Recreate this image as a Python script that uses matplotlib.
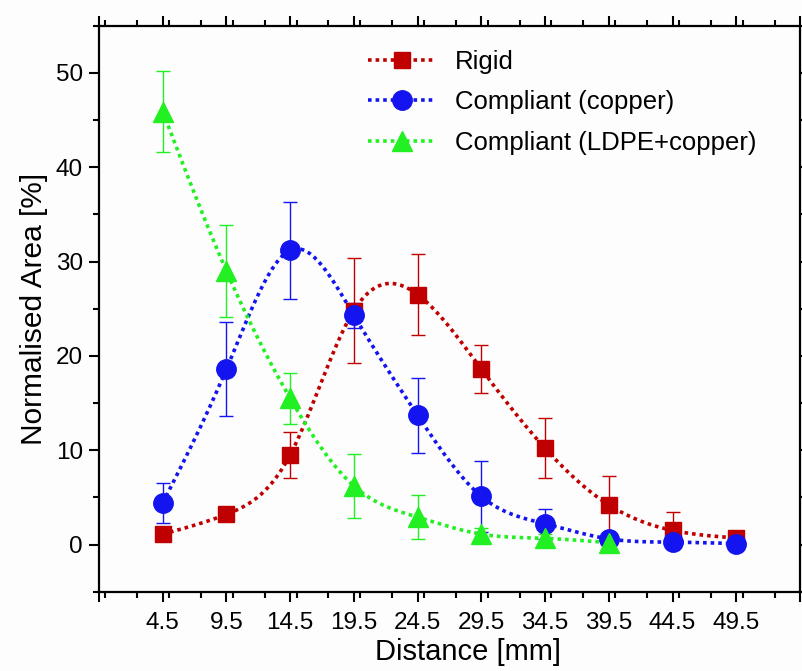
import numpy as np
import matplotlib
matplotlib.use('Agg')
import matplotlib.pyplot as plt
from matplotlib.lines import Line2D
from matplotlib.ticker import MultipleLocator

plt.rcParams['font.family'] = ['Liberation Sans', 'DejaVu Sans']

distance = [4.5, 9.5, 14.5, 19.5, 24.5, 29.5, 34.5, 39.5, 44.5, 49.5]

rigid = [1.1, 3.2, 9.5, 24.8, 26.5, 18.6, 10.2, 4.2, 1.5, 0.7]
rigid_err = [0.3, 0.4, 2.45, 5.6, 4.3, 2.5, 3.2, 3.1, 2.0, 0.3]

copper = [4.4, 18.6, 31.2, 24.3, 13.7, 5.1, 2.2, 0.6, 0.25, 0.1]
copper_err = [2.1, 5.0, 5.15, 1.3, 3.95, 3.8, 1.6, 0.5, 0.2, 0.1]

ldpe_x = [4.5, 9.5, 14.5, 19.5, 24.5, 29.5, 34.5, 39.5]
ldpe = [45.9, 29.0, 15.5, 6.2, 2.9, 1.1, 0.65, 0.2]
ldpe_err = [4.3, 4.85, 2.7, 3.35, 2.3, 0.6, 0.5, 0.2]

labels = ['Rigid', 'Compliant (copper)', 'Compliant (LDPE+copper)']


def natural_spline(x, y, num=300):
    # natural cubic spline, just for drawing the connecting line
    x = np.asarray(x, float)
    y = np.asarray(y, float)
    n = len(x)
    h = np.diff(x)
    A = np.zeros((n, n))
    b = np.zeros(n)
    A[0, 0] = A[-1, -1] = 1
    for i in range(1, n - 1):
        A[i, i - 1] = h[i - 1]
        A[i, i] = 2 * (h[i - 1] + h[i])
        A[i, i + 1] = h[i]
        b[i] = 6 * ((y[i + 1] - y[i]) / h[i] - (y[i] - y[i - 1]) / h[i - 1])
    M = np.linalg.solve(A, b)
    xs = np.linspace(x[0], x[-1], num)
    idx = np.clip(np.searchsorted(x, xs) - 1, 0, n - 2)
    x0, x1 = x[idx], x[idx + 1]
    hh = x1 - x0
    t0, t1 = x1 - xs, xs - x0
    ys = (M[idx] * t0 ** 3 + M[idx + 1] * t1 ** 3) / (6 * hh) \
        + (y[idx] / hh - M[idx] * hh / 6) * t0 \
        + (y[idx + 1] / hh - M[idx + 1] * hh / 6) * t1
    return xs, ys


fig = plt.figure(figsize=(8.02, 6.71), dpi=100, facecolor='#fdfdfd')
ax = fig.add_axes([0.1234, 0.1182, 0.8741, 0.8435])
ax.set_facecolor('#fdfdfd')

series = [
    (distance, rigid, rigid_err, '#C00000', 's', 12),
    (distance, copper, copper_err, '#1414F0', 'o', 14),
    (ldpe_x, ldpe, ldpe_err, '#22F022', '^', 15),
]

handles = []
for k, (x, y, e, c, m, ms) in enumerate(series):
    xs, ys = natural_spline(x, y)
    ax.plot(xs, ys, color=c, linestyle=(0, (1, 1.1)), lw=2.6, zorder=2 + k)
    ax.errorbar(x, y, yerr=e, fmt='none', ecolor=c, elinewidth=1,
                capsize=5, capthick=1, zorder=2 + k)
    ax.plot(x, y, linestyle='none', marker=m, ms=ms, color=c, mec=c,
            zorder=5 + k)
    handles.append(Line2D([], [], color=c, linestyle=(0, (1, 1.1)), lw=2.6,
                          marker=m, ms=ms, mec=c))

ax.set_xlim(-0.5, 54.5)
ax.set_ylim(-5, 55)
major_x = np.arange(-0.5, 55, 5)
ax.set_xticks(major_x)
ax.set_xticklabels(['' if (v < 0 or v > 50) else f'{v:.1f}' for v in major_x])
ax.xaxis.set_minor_locator(MultipleLocator(2.5))
ax.set_yticks([0, 10, 20, 30, 40, 50])
ax.yaxis.set_minor_locator(MultipleLocator(5))

ax.tick_params(which='both', direction='out', top=True, right=True,
               width=1.5, labelsize=17.5)
ax.tick_params(which='major', length=7.5)
ax.tick_params(axis='x', which='major', pad=7)
ax.tick_params(axis='y', which='major', pad=4)
ax.tick_params(which='minor', length=4)
for sp in ax.spines.values():
    sp.set_linewidth(1.6)

ax.set_xlabel('Distance [mm]', fontsize=21)
ax.xaxis.set_label_coords(0.526, -0.0818)
ax.set_ylabel('Normalised Area [%]', fontsize=21.5, labelpad=6)

ax.legend(handles, labels, loc='upper left', bbox_to_anchor=(0.351, 0.998),
          frameon=False, fontsize=18.5, handlelength=2.65, handletextpad=0.74,
          labelspacing=0.64)

fig.savefig('out.png', dpi=100, facecolor=fig.get_facecolor())
